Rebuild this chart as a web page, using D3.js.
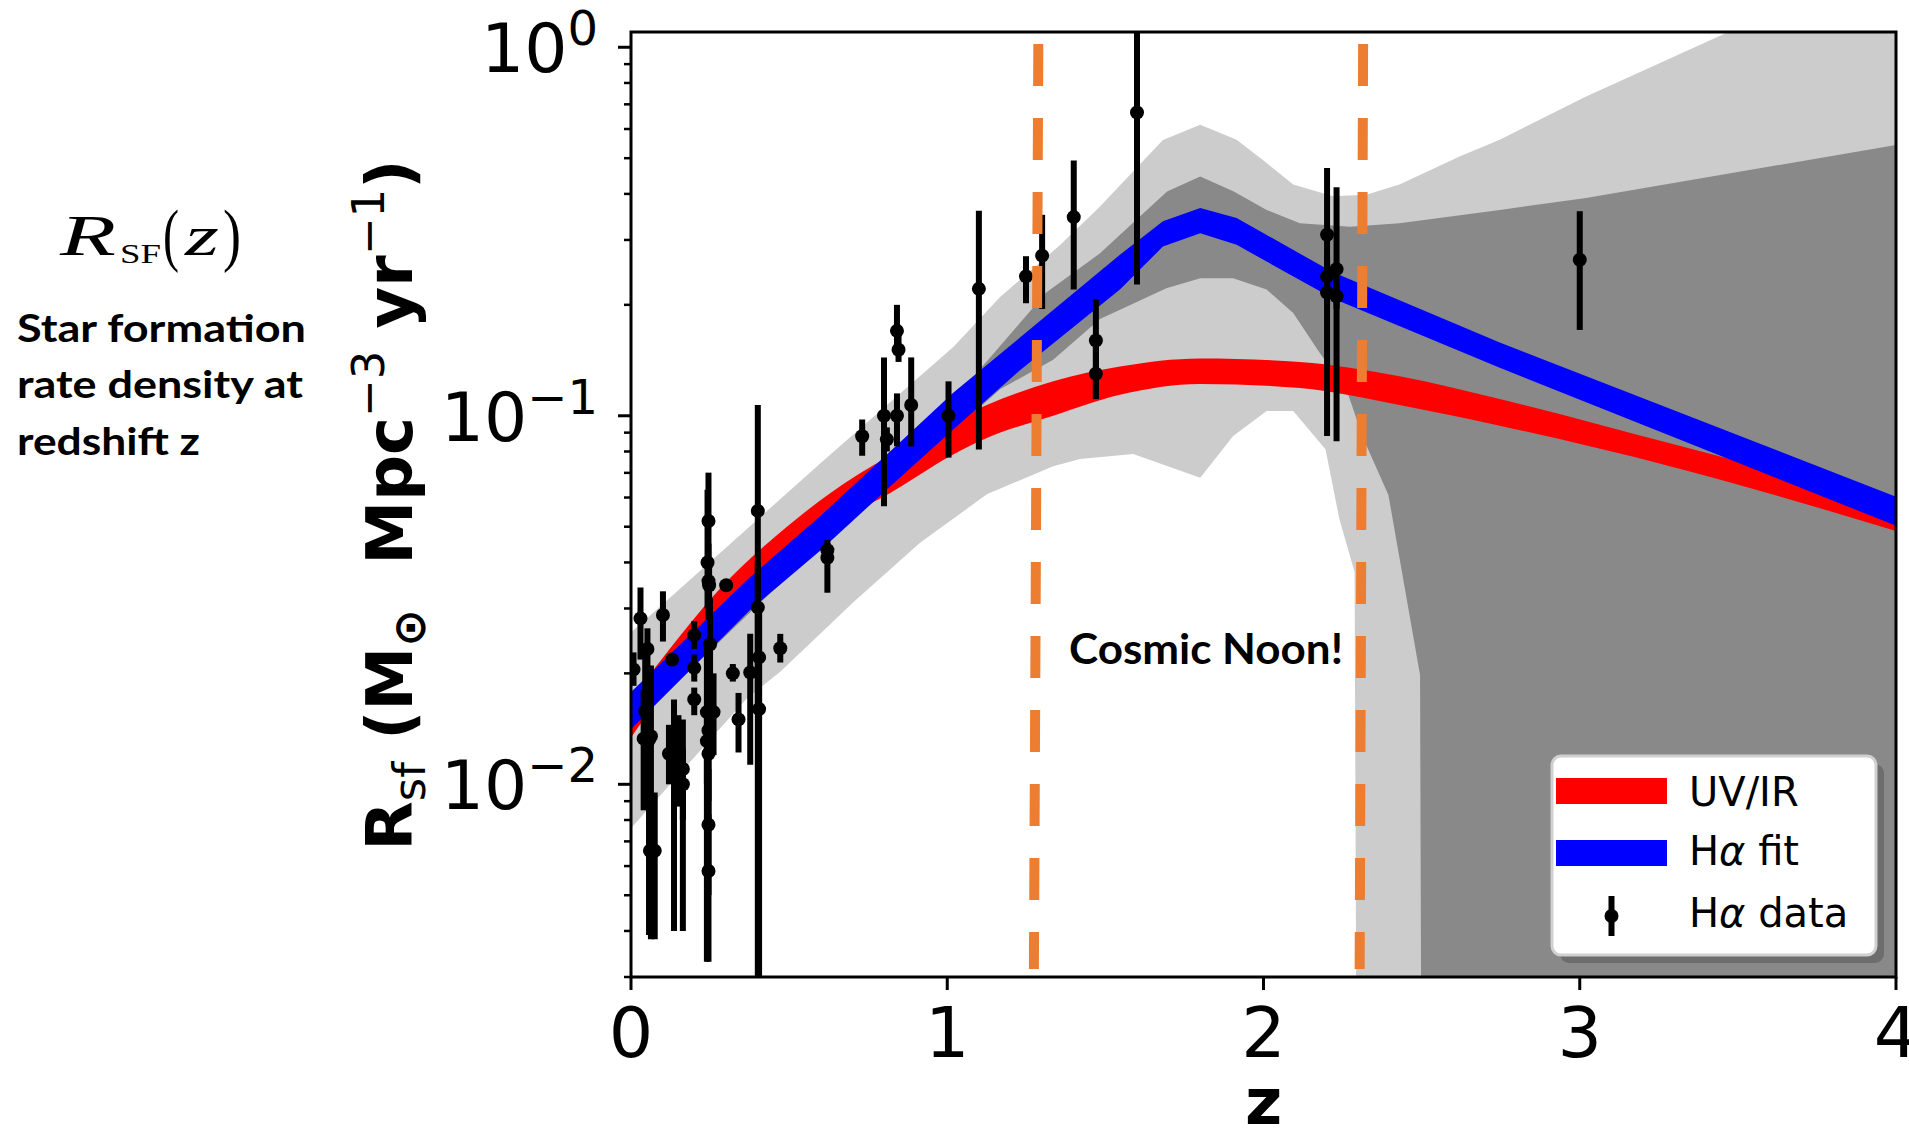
<!DOCTYPE html>
<html>
<head>
<meta charset="utf-8">
<script src="https://cdn.jsdelivr.net/npm/d3@7"></script>
<style>
  html, body { margin: 0; padding: 0; background: #ffffff; }
  svg { display: block; }
  text { white-space: pre; }
</style>
</head>
<body>
<svg id="chart" width="1909" height="1133"></svg>
<script>
// ---------------- DATA ----------------
const xTicks = [0, 1, 2, 3, 4];
const yMajorTicks = [0.01, 0.1, 1];
const yTickBase = ["10", "10", "10"];
const yTickExp = ["\u22122", "\u22121", "0"];

// H-alpha data points (z, value, lower, upper)
const haZ  = [0.008,0.030,0.040,0.045,0.052,0.057,0.060,0.063,0.075,0.101,0.120,0.130,0.136,0.150,0.164,0.164,0.200,0.200,0.200,0.240,0.245,0.242,0.245,0.247,0.250,0.245,0.240,0.245,0.245,0.245,0.261,0.301,0.322,0.340,0.377,0.401,0.401,0.405,0.405,0.472,0.621,0.621,0.731,0.800,0.809,0.841,0.846,0.841,0.886,1.004,1.100,1.249,1.300,1.400,1.470,1.470,1.600,2.201,2.201,2.201,2.231,2.231,3.000];
const haV  = [0.0205,0.0282,0.0133,0.0158,0.0233,0.0132,0.0066,0.0135,0.0066,0.0288,0.0121,0.0218,0.0112,0.0121,0.0110,0.0100,0.0254,0.0207,0.0170,0.0157,0.0518,0.0400,0.0356,0.0347,0.0240,0.0140,0.0131,0.0121,0.00777,0.00582,0.0157,0.0347,0.0200,0.0150,0.0201,0.0552,0.0302,0.0221,0.0160,0.0234,0.0432,0.0412,0.0880,0.1000,0.0863,0.1700,0.1510,0.1000,0.1070,0.1000,0.2210,0.2390,0.2720,0.3460,0.1600,0.1300,0.6650,0.3100,0.2390,0.2160,0.2500,0.2110,0.2650];
const haLo = [0.0185,0.0218,0.0085,0.0110,0.0190,0.0039,0.0045,0.0038,0.0038,0.0244,0.0100,0.0210,0.0040,0.0087,0.0040,0.0080,0.0233,0.0190,0.0154,0.0033,0.0360,0.0300,0.0280,0.0300,0.0160,0.0090,0.0100,0.0080,0.0050,0.0033,0.0120,0.0335,0.0190,0.0122,0.0113,0.0025,0.0160,0.0150,0.0030,0.0214,0.0400,0.0331,0.0779,0.0568,0.0800,0.1510,0.1400,0.0826,0.0826,0.0770,0.0810,0.2020,0.1950,0.2200,0.1110,0.1110,0.2270,0.0881,0.2100,0.2000,0.0853,0.1950,0.1710];
const haHi = [0.0228,0.0342,0.0180,0.0233,0.0265,0.0160,0.0115,0.0210,0.0095,0.0334,0.0145,0.0226,0.0170,0.0154,0.0150,0.0125,0.0277,0.0225,0.0183,0.0240,0.0701,0.0630,0.0450,0.0400,0.0320,0.0190,0.0160,0.0160,0.0110,0.0083,0.0200,0.0360,0.0212,0.0177,0.0256,0.1070,0.0400,0.0300,0.0300,0.0256,0.0460,0.0452,0.0977,0.1440,0.0930,0.2000,0.1650,0.1150,0.1440,0.1240,0.3600,0.2710,0.3510,0.4930,0.2070,0.1600,1.3000,0.4700,0.2700,0.2300,0.4170,0.2300,0.3590];

// H-alpha fit band
const blueZ  = [0, 0.375, 0.598, 0.809, 1.019, 1.23, 1.546, 1.682, 1.80, 1.915, 2.22, 2.747, 4.0];
const blueHi = [0.0178, 0.0364, 0.0534, 0.0785, 0.1154, 0.163, 0.2736, 0.337, 0.366, 0.344, 0.245, 0.158, 0.0603];
const blueLo = [0.0141, 0.0296, 0.0430, 0.0631, 0.0918, 0.133, 0.220, 0.288, 0.313, 0.291, 0.208, 0.135, 0.0503];

// UV/IR band
const redZ  = [0, 0.103, 0.282, 0.493, 0.703, 0.809, 1.019, 1.125, 1.335, 1.546, 1.80, 2.115, 2.43, 2.747, 3.285, 4.0];
const redHi = [0.0170, 0.0222, 0.0340, 0.0500, 0.0680, 0.0770, 0.097, 0.107, 0.124, 0.136, 0.143, 0.140, 0.128, 0.111, 0.0842, 0.058];
const redLo = [0.0134, 0.0178, 0.0272, 0.0400, 0.0545, 0.061, 0.0785, 0.087, 0.100, 0.114, 0.122, 0.119, 0.107, 0.0940, 0.0730, 0.0487];

// outer (light) confidence band
const lightHiZ = [0, 0.6, 1.02, 1.167, 1.356, 1.483, 1.682, 1.80, 1.915, 2.01, 2.094, 2.22, 2.325, 2.43, 2.62, 2.747, 3.02, 3.47, 4.0];
const lightHi  = [0.0258, 0.0745, 0.154, 0.21, 0.29, 0.37, 0.56, 0.616, 0.561, 0.485, 0.424, 0.394, 0.398, 0.424, 0.505, 0.561, 0.735, 1.1, 1.9];
const lightLoZ = [0, 0.366, 0.472, 0.703, 0.914, 1.125, 1.335, 1.42, 1.588, 1.80, 1.904, 2.01, 2.094, 2.196, 2.24, 2.288, 2.295, 4.0];
const lightLo  = [0.0076, 0.0171, 0.0202, 0.0312, 0.0452, 0.0612, 0.0730, 0.0763, 0.0787, 0.0679, 0.0881, 0.103, 0.103, 0.0811, 0.0524, 0.0377, 0.001, 0.001];

// inner (dark) confidence band
const darkHiZ = [0, 0.5, 0.9, 1.074, 1.313, 1.483, 1.695, 1.80, 1.906, 2.01, 2.115, 2.273, 2.43, 2.747, 3.02, 4.0];
const darkHi  = [0.0172, 0.0440, 0.092, 0.125, 0.216, 0.276, 0.406, 0.446, 0.406, 0.362, 0.333, 0.326, 0.333, 0.362, 0.390, 0.543];
const darkLoZ = [0, 0.5, 0.9, 1.074, 1.167, 1.335, 1.483, 1.693, 1.80, 1.904, 2.01, 2.094, 2.178, 2.262, 2.315, 2.395, 2.495, 2.50, 4.0];
const darkLo  = [0.0143, 0.037, 0.075, 0.100, 0.118, 0.142, 0.183, 0.222, 0.236, 0.236, 0.220, 0.190, 0.148, 0.118, 0.087, 0.061, 0.0198, 0.001, 0.001];

// "Cosmic Noon" bracket lines (z at top, z at bottom)
const noonZTop    = [1.288, 2.315];
const noonZBottom = [1.274, 2.304];

const legendLabels = ["UV/IR", "H\u03b1 fit", "H\u03b1 data"];
const legendColors = ["#ff0000", "#0000ff", "#000000"];

// ---------------- CHART ----------------
const svg = d3.select("#chart");
const L = 631, R = 1896, T = 32, B = 977;
const x = d3.scaleLinear().domain([0, 4]).range([L, R]);
const y = d3.scaleLog().domain([0.003, 1.1]).range([B, T]);

svg.append("defs").append("clipPath").attr("id", "plotclip")
  .append("rect").attr("x", L).attr("y", T).attr("width", R - L).attr("height", B - T);

const plot = svg.append("g").attr("clip-path", "url(#plotclip)");
const line = d3.line().x(d => x(d[0])).y(d => y(d[1]));

function bandPath(zHi, vHi, zLo, vLo) {
  const up = zHi.map((z, i) => [z, vHi[i]]);
  const lo = zLo.map((z, i) => [z, vLo[i]]).reverse();
  return line(up.concat(lo)) + "Z";
}

plot.append("path").attr("d", bandPath(lightHiZ, lightHi, lightLoZ, lightLo)).attr("fill", "#cccccc");
plot.append("path").attr("d", bandPath(darkHiZ, darkHi, darkLoZ, darkLo)).attr("fill", "#898989");

const redArea = d3.area().curve(d3.curveMonotoneX)
  .x((d, i) => x(redZ[i])).y0((d, i) => y(redLo[i])).y1((d, i) => y(redHi[i]));
plot.append("path").attr("d", redArea(redZ)).attr("fill", "#ff0000");
plot.append("path").attr("d", bandPath(blueZ, blueHi, blueZ, blueLo)).attr("fill", "#0000ff");

const pts = haZ.map((z, i) => ({ z, v: haV[i], lo: haLo[i], hi: haHi[i] }));
plot.selectAll("line.err").data(pts).enter().append("line")
  .attr("x1", d => x(d.z)).attr("x2", d => x(d.z))
  .attr("y1", d => y(d.lo)).attr("y2", d => y(d.hi))
  .attr("stroke", "#000").attr("stroke-width", 6);
plot.selectAll("circle.pt").data(pts).enter().append("circle")
  .attr("cx", d => x(d.z)).attr("cy", d => y(d.v)).attr("r", 7).attr("fill", "#000");

// frame
svg.append("rect").attr("x", L).attr("y", T).attr("width", R - L).attr("height", B - T)
  .attr("fill", "none").attr("stroke", "#000").attr("stroke-width", 3);

// x ticks
const xAxis = svg.append("g");
xTicks.forEach(t => {
  xAxis.append("line").attr("x1", x(t)).attr("x2", x(t)).attr("y1", B).attr("y2", B + 13)
    .attr("stroke", "#000").attr("stroke-width", 3);
  xAxis.append("text").attr("x", x(t)).attr("y", 1057).attr("text-anchor", "middle")
    .attr("font-family", "DejaVu Sans").attr("font-size", 70).text(t);
});

// y ticks
const yAxis = svg.append("g");
const minor = [];
[0.001, 0.01, 0.1].forEach(dec => { for (let k = 2; k <= 9; k++) minor.push(dec * k); });
minor.filter(v => v >= 0.003 && v <= 1.1).forEach(v => {
  yAxis.append("line").attr("x1", L - 7).attr("x2", L).attr("y1", y(v)).attr("y2", y(v))
    .attr("stroke", "#000").attr("stroke-width", 2.5);
});
yMajorTicks.forEach((v, i) => {
  yAxis.append("line").attr("x1", L - 13).attr("x2", L).attr("y1", y(v)).attr("y2", y(v))
    .attr("stroke", "#000").attr("stroke-width", 3);
  const t = yAxis.append("text").attr("x", 598).attr("y", y(v) + 25).attr("text-anchor", "end")
    .attr("font-family", "DejaVu Sans").attr("font-size", 68);
  t.append("tspan").text(yTickBase[i]);
  t.append("tspan").attr("dy", -27).attr("font-size", 48).text(yTickExp[i]);
});

// axis titles
svg.append("text").attr("x", (L + R) / 2).attr("y", 1124).attr("text-anchor", "middle")
  .attr("font-family", "DejaVu Sans").attr("font-weight", "bold").attr("font-size", 64).text("z");

const yl = svg.append("text").attr("transform", "translate(412,505) rotate(-90)")
  .attr("text-anchor", "middle").attr("font-family", "DejaVu Sans").attr("font-weight", "bold")
  .attr("font-size", 64);
yl.append("tspan").text("R");
yl.append("tspan").attr("font-size", 45).attr("font-weight", "normal").attr("dy", 13).text("sf");
yl.append("tspan").attr("dy", -13).text(" (M");
yl.append("tspan").attr("font-size", 45).attr("dy", 13).text("\u2299");
yl.append("tspan").attr("dy", -13).text("  Mpc");
yl.append("tspan").attr("font-size", 45).attr("font-weight", "normal").attr("dy", -28).text("\u22123");
yl.append("tspan").attr("dy", 28).text(" yr");
yl.append("tspan").attr("font-size", 45).attr("font-weight", "normal").attr("dy", -28).text("\u22121");
yl.append("tspan").attr("dy", 28).text(")");

// Cosmic noon lines
noonZTop.forEach((zt, i) => {
  svg.append("line").attr("x1", x(zt)).attr("x2", x(noonZBottom[i]))
    .attr("y1", 44).attr("y2", 969)
    .attr("stroke", "#ED7D31").attr("stroke-width", 10).attr("stroke-dasharray", "42 32");
});
svg.append("text").attr("x", 1069).attr("y", 664).attr("font-family", "Lato")
  .attr("font-weight", "bold").attr("font-size", 42).attr("textLength", 274)
  .attr("lengthAdjust", "spacingAndGlyphs").text("Cosmic Noon!");

// legend
const lg = svg.append("g");
lg.append("rect").attr("x", 1560).attr("y", 764).attr("width", 324).attr("height", 199).attr("rx", 9)
  .attr("fill", "#000").attr("opacity", 0.2);
lg.append("rect").attr("x", 1552).attr("y", 756).attr("width", 324).attr("height", 199).attr("rx", 9)
  .attr("fill", "#fff").attr("stroke", "#d0d0d0").attr("stroke-width", 3);
lg.append("rect").attr("x", 1556).attr("y", 778).attr("width", 111).attr("height", 26).attr("fill", legendColors[0]);
lg.append("rect").attr("x", 1556).attr("y", 840).attr("width", 111).attr("height", 26).attr("fill", legendColors[1]);
lg.append("line").attr("x1", 1611.5).attr("x2", 1611.5).attr("y1", 896).attr("y2", 936)
  .attr("stroke", legendColors[2]).attr("stroke-width", 6);
lg.append("circle").attr("cx", 1611.5).attr("cy", 916).attr("r", 7).attr("fill", legendColors[2]);
const lgY = [806, 865, 927];
legendLabels.forEach((lab, i) => {
  const t = lg.append("text").attr("x", 1689).attr("y", lgY[i]).attr("font-family", "DejaVu Sans").attr("font-size", 40);
  if (lab.indexOf("\u03b1") >= 0) {
    const parts = lab.split("\u03b1");
    t.append("tspan").text(parts[0]);
    t.append("tspan").attr("font-style", "italic").text("\u03b1");
    t.append("tspan").text(parts[1]);
  } else t.text(lab);
});

// left annotation
const ann = svg.append("g").attr("font-family", "Liberation Serif");
ann.append("text").attr("x", 60).attr("y", 255).attr("font-size", 56).attr("font-style", "italic")
  .attr("textLength", 56).attr("lengthAdjust", "spacingAndGlyphs").text("R");
ann.append("text").attr("x", 120).attr("y", 263).attr("font-size", 27)
  .attr("textLength", 41).attr("lengthAdjust", "spacingAndGlyphs").text("SF");
ann.append("text").attr("x", 163).attr("y", 258).attr("font-size", 70)
  .attr("textLength", 16).attr("lengthAdjust", "spacingAndGlyphs").text("(");
ann.append("text").attr("x", 185).attr("y", 255).attr("font-size", 56).attr("font-style", "italic")
  .attr("textLength", 34).attr("lengthAdjust", "spacingAndGlyphs").text("z");
ann.append("text").attr("x", 223).attr("y", 258).attr("font-size", 70)
  .attr("textLength", 18).attr("lengthAdjust", "spacingAndGlyphs").text(")");

const desc = [["Star formation", 342, 289], ["rate density at", 398, 286], ["redshift z", 455, 183]];
desc.forEach(d => {
  svg.append("text").attr("x", 17).attr("y", d[1]).attr("font-family", "Lato").attr("font-weight", "bold")
    .attr("font-size", 38).attr("textLength", d[2]).attr("lengthAdjust", "spacingAndGlyphs").text(d[0]);
});
</script>
</body>
</html>
